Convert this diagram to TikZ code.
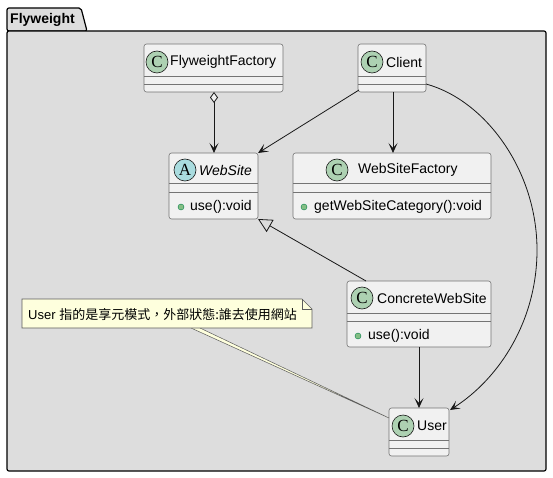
\documentclass[tikz,border=0pt]{standalone}
\usepackage{fontspec}
\setmainfont{Liberation Sans}
\newfontfamily\cjk{Noto Sans CJK TC}
\newfontfamily\cfont{Liberation Serif}
\usetikzlibrary{arrows.meta,shapes.geometric}
\definecolor{pkgbg}{HTML}{DDDDDD}
\definecolor{boxbg}{HTML}{F1F1F1}
\definecolor{boxline}{HTML}{181818}
\definecolor{cgreen}{HTML}{ADD1B2}
\definecolor{acyan}{HTML}{A9DCDF}
\definecolor{notebg}{HTML}{FEFFDD}
\definecolor{bgreen}{HTML}{84BE84}
\definecolor{bline}{HTML}{038048}
\begin{document}
\begin{tikzpicture}[x=1pt,y=-1pt,
  classbox/.style={draw=boxline!60, fill=boxbg, line width=0.6pt, rounded corners=2.5pt},
  sepline/.style={draw=boxline!60, line width=0.6pt},
  cicon/.style={circle, draw=boxline, fill=cgreen, line width=0.6pt, minimum size=22pt, inner sep=0pt, font=\cfont\fontsize{17}{17}\selectfont},
  aicon/.style={cicon, fill=acyan},
  lbl/.style={anchor=west, inner sep=0pt, font=\fontsize{14}{16}\selectfont},
  bullet/.style={circle, draw=bline, fill=bgreen, minimum size=6pt, inner sep=0pt, line width=0.4pt},
  conn/.style={draw=boxline, line width=0.8pt},
  arr/.style={conn, -{Stealth[length=10pt,width=9pt,inset=5pt,fill=boxline]}},
]
\useasboundingbox (0,0) rectangle (553,478);
% package
\path[fill=pkgbg, draw=black, line width=1.2pt, rounded corners=2pt]
  (7,31) -- (7,8) -- (81,8) -- (87,31) -- cycle;
\path[fill=pkgbg, draw=black, line width=1.2pt, rounded corners=2pt]
  (7,31) rectangle (546,471);
\node[anchor=west, inner sep=0pt, font=\bfseries\fontsize{14}{16}\selectfont] (pkg) at (10,19.5) {Flyweight};

% FlyweightFactory
\node[classbox, minimum width=139pt, minimum height=48pt, inner sep=0pt] (ff) at (213.5,68) {};
\draw[sepline] (144,76) -- (283,76);
\draw[sepline] (144,84) -- (283,84);
\node[cicon] (ffi) at (157,62) {C};
\node[lbl] (fft) at (170,62) {FlyweightFactory};

% Client
\node[classbox, minimum width=68pt, minimum height=48pt, inner sep=0pt] (cl) at (392,68) {};
\draw[sepline] (358,76) -- (426,76);
\draw[sepline] (358,84) -- (426,84);
\node[cicon] (cli) at (372,62) {C};
\node[lbl] (clt) at (386,62) {Client};

% WebSite
\node[classbox, minimum width=89pt, minimum height=66pt, inner sep=0pt] (ws) at (213.5,186) {};
\draw[sepline] (169,183) -- (258,183);
\draw[sepline] (169,192) -- (258,192);
\node[aicon] (wsi) at (185,170) {A};
\node[lbl, font=\itshape\fontsize{14}{16}\selectfont] (wst) at (199,170) {WebSite};
\node[bullet] (wsb) at (181,207) {};
\node[lbl] (wsm) at (190,207) {use():void};

% WebSiteFactory
\node[classbox, minimum width=198pt, minimum height=66pt, inner sep=0pt] (wsf) at (392,186) {};
\draw[sepline] (293,183) -- (491,183);
\draw[sepline] (293,192) -- (491,192);
\node[cicon] (wsfi) at (337,170) {C};
\node[lbl] (wsft) at (358,170) {WebSiteFactory};
\node[bullet] (wsfb) at (304,207) {};
\node[lbl] (wsfm) at (314,207) {getWebSiteCategory():void};

% ConcreteWebSite
\node[classbox, minimum width=144pt, minimum height=66pt, inner sep=0pt] (cws) at (419,314) {};
\draw[sepline] (347,313) -- (491,313);
\draw[sepline] (347,321) -- (491,321);
\node[cicon] (cwsi) at (362,298) {C};
\node[lbl] (cwst) at (377,298) {ConcreteWebSite};
\node[bullet] (cwsb) at (358,336) {};
\node[lbl] (cwsm) at (368,336) {use():void};

% User
\node[classbox, minimum width=60pt, minimum height=48pt, inner sep=0pt] (us) at (419,432) {};
\draw[sepline] (389,440) -- (449,440);
\draw[sepline] (389,448) -- (449,448);
\node[cicon] (usi) at (403,426) {C};
\node[lbl] (ust) at (417,426) {User};

% note
\coordinate (nA) at (191,328);
\coordinate (nB) at (200,328);
\coordinate (uL) at (389,418);
\path[fill=notebg, draw=boxline!70, line width=0.5pt] (nA) -- (uL) -- (nB);
\path[fill=notebg, draw=boxline!70, line width=0.6pt]
  (22,299) -- (302,299) -- (312,309) -- (312,328) -- (22,328) -- cycle;
\draw[boxline!70, line width=0.6pt] (302,299) -- (302,309) -- (312,309);
\node[anchor=west, inner sep=0pt, font=\fontsize{13}{15}\selectfont] (nt) at (28,315) {User {\cjk\fontsize{13}{15}\selectfont 指的是享元模式，外部狀態:誰去使用網站}};

% connectors
\coordinate (ffb) at (214,92);
\coordinate (wstop) at (214,153);
\draw[arr, {Diamond[open,length=11pt,width=8pt,fill=boxbg]}-{Stealth[length=10pt,width=9pt,inset=5pt,fill=boxline]}] (ffb) -- (wstop);
\draw[arr] (359,90) -- (258,153);
\draw[arr] (393,92) -- (393,153);
\draw[arr] (426,84) .. controls (485,100) and (537,170) .. (537,250) .. controls (537,320) and (500,378) .. (450,410);
\draw[conn, -{Triangle[open,length=14pt,width=14pt,fill=pkgbg]}] (366,281) -- (258,219);
\draw[arr] (419,347) -- (419,408);
\end{tikzpicture}
\end{document}
